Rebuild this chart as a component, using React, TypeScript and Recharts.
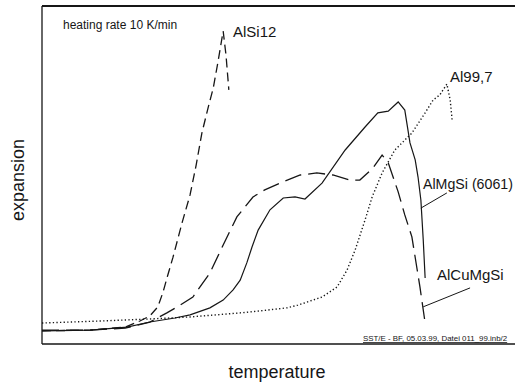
import React from "react";
import { LineChart, Line, XAxis, YAxis, ReferenceLine } from "recharts";

// temperature / expansion in relative units (0..100 across the plot box)
const alSi12 = [
  { x: 0, y: 3.9 }, { x: 10.2, y: 4.1 }, { x: 17.6, y: 5.0 }, { x: 20.7, y: 6.8 },
  { x: 22.8, y: 8.3 }, { x: 24.5, y: 11.0 }, { x: 25.6, y: 15.4 }, { x: 26.6, y: 20.4 },
  { x: 27.7, y: 25.7 }, { x: 29.6, y: 35.8 }, { x: 31.3, y: 44.1 }, { x: 32.6, y: 53.0 },
  { x: 33.8, y: 62.4 }, { x: 35.1, y: 69.8 }, { x: 36.2, y: 75.7 }, { x: 37.2, y: 83.4 },
  { x: 38.3, y: 92.6 }, { x: 38.9, y: 85.5 }, { x: 39.5, y: 75.2 },
];

const alCuMgSi = [
  { x: 0, y: 4.1 }, { x: 10.2, y: 4.1 }, { x: 17.6, y: 4.7 }, { x: 22.8, y: 6.5 },
  { x: 26.4, y: 9.2 }, { x: 29.2, y: 11.5 }, { x: 31.9, y: 13.9 }, { x: 35.5, y: 21.0 },
  { x: 38.1, y: 28.7 }, { x: 41.2, y: 37.6 }, { x: 44.6, y: 43.5 }, { x: 47.1, y: 45.6 },
  { x: 50.3, y: 47.6 }, { x: 54.6, y: 50.0 }, { x: 58.1, y: 50.6 }, { x: 61.5, y: 50.0 },
  { x: 65.1, y: 48.5 }, { x: 67.2, y: 48.5 }, { x: 70.0, y: 52.1 }, { x: 71.9, y: 55.9 },
  { x: 73.2, y: 53.6 }, { x: 75.3, y: 45.0 }, { x: 76.7, y: 38.2 }, { x: 78.2, y: 31.7 },
  { x: 79.9, y: 16.9 }, { x: 81.0, y: 6.2 },
];

const alMgSi = [
  { x: 0, y: 3.9 }, { x: 10.2, y: 4.1 }, { x: 18.0, y: 5.0 }, { x: 22.8, y: 6.5 },
  { x: 28.1, y: 7.7 }, { x: 31.3, y: 8.6 }, { x: 35.5, y: 10.7 }, { x: 38.3, y: 13.0 },
  { x: 40.4, y: 16.0 }, { x: 41.9, y: 18.9 }, { x: 43.3, y: 24.0 }, { x: 44.4, y: 28.7 },
  { x: 45.7, y: 33.7 }, { x: 48.2, y: 39.7 }, { x: 51.0, y: 43.2 }, { x: 53.5, y: 43.5 },
  { x: 55.6, y: 42.9 }, { x: 59.2, y: 47.6 }, { x: 64.1, y: 57.4 }, { x: 68.3, y: 64.2 },
  { x: 71.0, y: 68.4 }, { x: 73.2, y: 68.9 }, { x: 75.3, y: 71.6 }, { x: 76.7, y: 69.2 },
  { x: 77.8, y: 59.5 }, { x: 78.9, y: 54.5 }, { x: 79.5, y: 49.4 }, { x: 80.1, y: 42.6 },
  { x: 80.6, y: 30.8 }, { x: 81.0, y: 19.5 },
];

const al997 = [
  { x: 0, y: 6.2 }, { x: 12.3, y: 6.8 }, { x: 22.8, y: 7.4 }, { x: 31.3, y: 8.0 },
  { x: 41.9, y: 9.2 }, { x: 46.1, y: 9.8 }, { x: 51.8, y: 10.7 }, { x: 54.1, y: 11.5 },
  { x: 59.2, y: 13.9 }, { x: 62.4, y: 16.9 }, { x: 64.5, y: 21.9 }, { x: 66.2, y: 27.8 },
  { x: 68.3, y: 36.7 }, { x: 69.8, y: 43.5 }, { x: 71.9, y: 50.6 }, { x: 74.6, y: 57.4 },
  { x: 78.2, y: 62.4 }, { x: 81.0, y: 68.4 }, { x: 82.7, y: 72.2 }, { x: 84.1, y: 73.7 },
  { x: 85.6, y: 76.9 }, { x: 86.3, y: 72.2 }, { x: 86.7, y: 66.3 },
];

// leader lines from curve to label
const leaderMgSi = [{ x: 80.1, y: 40.2 }, { x: 85.6, y: 44.7 }];
const leaderCuMgSi = [{ x: 80.6, y: 11.0 }, { x: 90.5, y: 16.6 }];

const ink = "#161616";
const font = "'Liberation Sans', Arial, sans-serif";

export default function App() {
  return (
    <div style={{ position: "absolute", left: 0, top: 0 }}>
      <LineChart
        width={515}
        height={385}
        margin={{ top: 6, right: 0, bottom: 41, left: 42 }}
      >
        <XAxis type="number" dataKey="x" domain={[0, 100]} allowDataOverflow hide />
        <YAxis type="number" dataKey="y" domain={[0, 100]} allowDataOverflow hide />

        {/* plot frame: top, bottom, left */}
        <ReferenceLine y={100} stroke={ink} strokeWidth={1.8} />
        <ReferenceLine y={0} stroke={ink} strokeWidth={1.6} />
        <ReferenceLine x={0} stroke={ink} strokeWidth={1.3} />

        <Line data={al997} dataKey="y" type="linear" stroke={ink} strokeWidth={1.4}
          strokeDasharray="1.3 2.3" dot={false} isAnimationActive={false} />
        <Line data={alMgSi} dataKey="y" type="linear" stroke={ink} strokeWidth={1.2}
          dot={false} isAnimationActive={false} />
        <Line data={alCuMgSi} dataKey="y" type="linear" stroke={ink} strokeWidth={1.3}
          strokeDasharray="17 7" dot={false} isAnimationActive={false} />
        <Line data={alSi12} dataKey="y" type="linear" stroke={ink} strokeWidth={1.3}
          strokeDasharray="9 5" dot={false} isAnimationActive={false} />

        <ReferenceLine segment={leaderMgSi} stroke={ink} strokeWidth={1} />
        <ReferenceLine segment={leaderCuMgSi} stroke={ink} strokeWidth={1} />

        <text x={63} y={29} fontFamily={font} fontSize={12} fill={ink}>heating rate 10 K/min</text>
        <text x={233} y={37} fontFamily={font} fontSize={15} fill={ink}>AlSi12</text>
        <text x={450} y={82} fontFamily={font} fontSize={15} fill={ink}>Al99,7</text>
        <text x={423} y={189} fontFamily={font} fontSize={14.2} fill={ink}>AlMgSi (6061)</text>
        <text x={437} y={280} fontFamily={font} fontSize={15} fill={ink}>AlCuMgSi</text>
        <text x={363} y={341} fontFamily={font} fontSize={7.9} fill={ink} textDecoration="underline">
          SST/E - BF, 05.03.99, Datei 011_99.inb/2
        </text>
        <text x={277} y={378} fontFamily={font} fontSize={18} fill={ink} textAnchor="middle">temperature</text>
        <text x={24} y={180} fontFamily={font} fontSize={18} fill={ink} textAnchor="middle"
          transform="rotate(-90, 24, 180)">expansion</text>
      </LineChart>
    </div>
  );
}
